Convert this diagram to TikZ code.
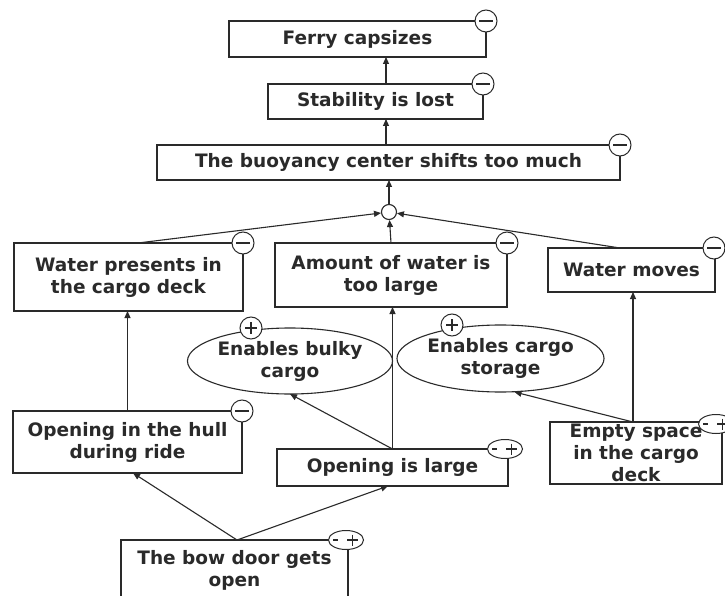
\documentclass[tikz,border=0pt]{standalone}
\usepackage{fontspec}
\setmainfont{DejaVu Sans}
\usetikzlibrary{arrows.meta,shapes.geometric}
\definecolor{ink}{HTML}{2A2A2A}

\begin{document}
\begin{tikzpicture}[x=1pt,y=-1pt,
  font=\fontsize{18.5}{22}\selectfont\bfseries,
  every node/.style={text=ink},
  box/.style={draw=ink, line width=1.3pt, fill=white, inner sep=0pt, outer sep=0pt, align=center},
  oval/.style={ellipse, draw=ink, line width=1.1pt, fill=white, inner sep=0pt, outer sep=0pt, align=center},
  link/.style={draw=ink, line width=1.1pt, -{Triangle[length=7pt,width=6pt]}},
  hubnode/.style={circle, draw=ink, line width=1.1pt, fill=white, minimum size=15pt, inner sep=0pt},
  minusmk/.style={circle, draw=ink, line width=1pt, fill=white, minimum size=22pt, inner sep=0pt,
    path picture={\draw[ink, line width=1.3pt]
      ([xshift=4pt]path picture bounding box.west) -- ([xshift=-4pt]path picture bounding box.east);}},
  plusmk/.style={circle, draw=ink, line width=1pt, fill=white, minimum size=22pt, inner sep=0pt,
    path picture={\draw[ink, line width=1.3pt]
      ([xshift=5pt]path picture bounding box.west) -- ([xshift=-5pt]path picture bounding box.east)
      ([yshift=-5pt]path picture bounding box.north) -- ([yshift=5pt]path picture bounding box.south);}},
  pmmk/.style={ellipse, draw=ink, line width=1pt, fill=white, minimum width=35pt, minimum height=19pt, inner sep=0pt,
    path picture={\draw[ink, line width=1.3pt]
      ([xshift=-13pt]path picture bounding box.center) -- ([xshift=-8pt]path picture bounding box.center)
      ([xshift=1pt]path picture bounding box.center) -- ([xshift=12pt]path picture bounding box.center)
      ([xshift=6.5pt,yshift=5.5pt]path picture bounding box.center) -- ([xshift=6.5pt,yshift=-5.5pt]path picture bounding box.center);}}
]
\useasboundingbox (0,0) rectangle (725,596);
\clip (0,0) rectangle (725,596);
\fill[white] (0,0) rectangle (725,596);

% chain of consequences at the top
\node[box, minimum width=257pt, minimum height=36pt] (ferry) at (357.5,39) {Ferry capsizes};
\node[box, minimum width=215pt, minimum height=35pt] (stab) at (375.5,101.5) {Stability is lost};
\node[box, minimum width=463pt, minimum height=35pt] (buoy) at (388.5,162.5) {The buoyancy center shifts too much};
\node[hubnode] (hub) at (389,212) {};

% contributing states
\node[box, minimum width=229pt, minimum height=68pt] (wp) at (128.5,277) {Water presents in\\the cargo deck};
\node[box, minimum width=232pt, minimum height=64pt] (amt) at (391,275) {Amount of water is\\too large};
\node[box, minimum width=167pt, minimum height=44pt] (wm) at (631.5,270) {Water moves};

% benefits
\node[oval, minimum width=184pt, minimum height=66pt] (bulky) at (290,361) {Enables bulky\\cargo};
\node[oval, minimum width=175pt, minimum height=67pt] (store) at (500.5,358.5) {Enables cargo\\storage};

% design features and root cause
\node[box, minimum width=229pt, minimum height=62pt] (hull) at (127.5,442) {Opening in the hull\\during ride};
\node[box, minimum width=231pt, minimum height=37pt] (large) at (392.5,467.5) {Opening is large};
\node[box, minimum width=172pt, minimum height=62pt] (empty) at (636,453) {Empty space\\in the cargo\\deck};
\node[box, minimum width=227pt, minimum height=60pt] (door) at (234.5,570) {The bow door gets\\open};

\coordinate (es) at ([xshift=-3pt]empty.north);
\coordinate (bd) at ([xshift=2.5pt]door.north);

% connectors
\draw[link] ([xshift=10.5pt]stab.north) -- ([xshift=28.5pt]ferry.south);
\draw[link] ([xshift=-2.5pt]buoy.north) -- ([xshift=10.5pt]stab.south);
\draw[link] (hub.north) -- (hub.north |- buoy.south);
\draw[link] ([xshift=9.5pt]wp.north) -- (hub);
\draw[link] (amt.north) -- (hub);
\draw[link] ([xshift=-11.5pt]wm.north) -- (hub);
\draw[link] (hull.north) -- (hull.north |- wp.south);
\draw[link] (large.north) -- (large.north |- amt.south);
\draw[link] (large.north) -- (bulky.south);
\draw[link] (es) -- (es |- wm.south);
\draw[link] (es) -- ([xshift=14pt]store.south);
\draw[link] (bd) -- ([xshift=5.5pt]hull.south);
\draw[link] (bd) -- ([xshift=-4.5pt]large.south);

% sign markers
\node[minusmk] (mferry) at (ferry.north east) {};
\node[minusmk] (mstab) at (stab.north east) {};
\node[minusmk] (mbuoy) at (buoy.north east) {};
\node[minusmk] (mwp) at (wp.north east) {};
\node[minusmk] (mamt) at (amt.north east) {};
\node[minusmk] (mwm) at ([xshift=-1pt]wm.north east) {};
\node[plusmk] (mbulky) at ([xshift=-39pt]bulky.north) {};
\node[plusmk] (mstore) at ([xshift=-48.5pt]store.north) {};
\node[minusmk] (mhull) at (hull.north east) {};
\node[pmmk] (mlarge) at ([xshift=-3pt]large.north east) {};
\node[pmmk] (mempty) at ([xshift=-6pt,yshift=-2pt]empty.north east) {};
\node[pmmk] (mdoor) at ([xshift=-2pt]door.north east) {};
\end{tikzpicture}
\end{document}
